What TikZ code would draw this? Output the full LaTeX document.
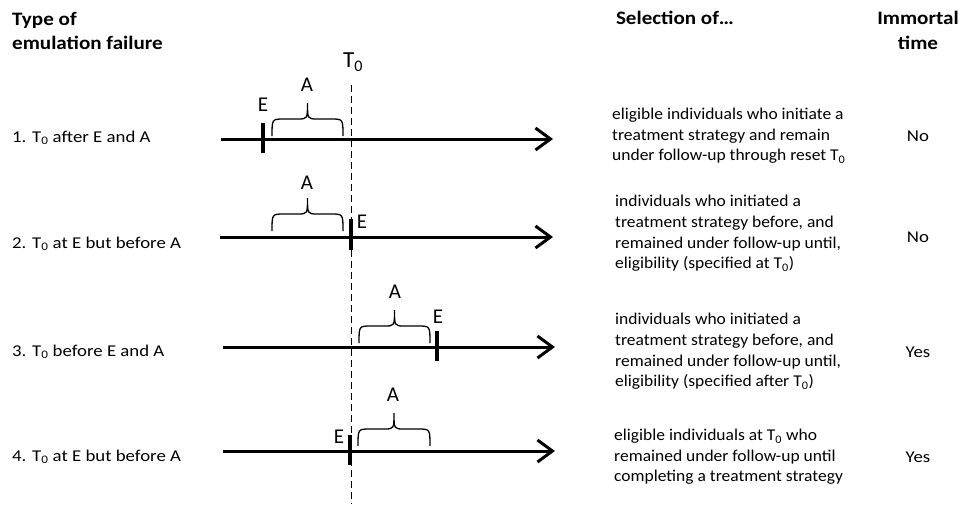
\documentclass[tikz,border=0pt]{standalone}
\usepackage{fontspec}
\setmainfont{Carlito}
\newfontfamily\bodyfont{Carlito}[FakeStretch=1.06]
\newfontfamily\rowfont{Carlito}[FakeStretch=1.14]
\newfontfamily\headfont{Carlito}[FakeStretch=1.11]
\usetikzlibrary{arrows.meta}
\newcommand{\Tz}{T\textsubscript{0}}
\newcommand{\mybrace}[3]{%
  \pgfmathsetmacro\bxa{#1}%
  \pgfmathsetmacro\bxb{#2}%
  \pgfmathsetmacro\bxc{(#1+#2)/2}%
  \pgfmathsetmacro\bym{#3-17}%
  \pgfmathsetmacro\byt{#3-33}%
  \draw[bracepath] (\bxa,#3) .. controls (\bxa,\bym) .. (\bxa+12,\bym) -- (\bxc-10,\bym)
    .. controls (\bxc,\bym) .. (\bxc,\byt) .. controls (\bxc,\bym) .. (\bxc+10,\bym)
    -- (\bxb-12,\bym) .. controls (\bxb,\bym) .. (\bxb,#3);%
}
\tikzset{
  axis/.style={line width=3pt,-{Straight Barb[length=15pt,width=22pt,line width=3pt]}},
  tickmark/.style={line width=4pt},
  bracepath/.style={line width=1.3pt},
  dashline/.style={line width=1pt,dash pattern=on 7pt off 4pt},
  head/.style={font=\headfont\fontsize{19}{24}\selectfont\bfseries,inner sep=0pt},
  lbl/.style={font=\fontsize{21}{24}\selectfont,inner sep=0pt},
  rowtxt/.style={font=\rowfont\fontsize{16.5}{20}\selectfont,inner sep=0pt,anchor=base west},
  seltxt/.style={font=\bodyfont\fontsize{16.5}{20.6}\selectfont,inner sep=0pt,anchor=west,align=left},
  ans/.style={font=\rowfont\fontsize{16.5}{20}\selectfont,inner sep=0pt},
}
\begin{document}
\begin{tikzpicture}[x=1pt,y=-1pt]
\useasboundingbox (0,0) rectangle (966,504);
% headers
\node[head,anchor=west,align=left] (htype) at (12,31) {Type of\\emulation failure};
\node[head] (hsel) at (675,18) {Selection of…};
\node[head,align=center,font=\headfont\fontsize{19}{25}\selectfont\bfseries] (himm) at (918,30.5) {Immortal\\time};
% T0 dashed line
\node[font=\fontsize{23}{26}\selectfont,inner sep=0pt] (tlab) at (353,62) {\Tz};
\coordinate (dtop) at (351,85);
\coordinate (dbot) at (351,504);
\draw[dashline] (dtop) -- (dbot);
% row 1
\node[rowtxt] (r1) at (12,142) {1. \Tz{} after E and A};
\coordinate (a1s) at (221,139); \coordinate (a1e) at (553,139);
\draw[axis] (a1s) -- (a1e);
\coordinate (t1a) at (263,123); \coordinate (t1b) at (263,153);
\draw[tickmark] (t1a) -- (t1b);
\mybrace{272}{343}{136}
\node[lbl] (A1) at (307,85) {A};
\node[lbl] (E1) at (263,105) {E};
\node[seltxt] (s1) at (612,136) {eligible individuals who initiate a\\treatment strategy and remain\\under follow-up through reset \Tz};
\node[ans] (y1) at (918,136) {No};
% row 2
\node[rowtxt] (r2) at (12,248) {2. \Tz{} at E but before A};
\coordinate (a2s) at (220,237); \coordinate (a2e) at (553,237);
\draw[axis] (a2s) -- (a2e);
\coordinate (t2a) at (351,219); \coordinate (t2b) at (351,250);
\draw[tickmark] (t2a) -- (t2b);
\mybrace{272}{343}{231}
\node[lbl] (A2) at (307,183) {A};
\node[lbl] (E2) at (362,222) {E};
\node[seltxt] (s2) at (615,233.5) {individuals who initiated a\\treatment strategy before, and\\remained under follow-up until,\\eligibility (specified at \Tz)};
\node[ans] (y2) at (918,237) {No};
% row 3
\node[rowtxt] (r3) at (12,356) {3. \Tz{} before E and A};
\coordinate (a3s) at (223,347); \coordinate (a3e) at (555,347);
\draw[axis] (a3s) -- (a3e);
\coordinate (t3a) at (437,331); \coordinate (t3b) at (437,361);
\draw[tickmark] (t3a) -- (t3b);
\mybrace{359}{430}{343}
\node[lbl] (A3) at (395,292) {A};
\node[lbl] (E3) at (438,317) {E};
\node[seltxt] (s3) at (615,351.5) {individuals who initiated a\\treatment strategy before, and\\remained under follow-up until,\\eligibility (specified after \Tz)};
\node[ans] (y3) at (918,352) {Yes};
% row 4
\node[rowtxt] (r4) at (12,461) {4. \Tz{} at E but before A};
\coordinate (a4s) at (223,451); \coordinate (a4e) at (555,451);
\draw[axis] (a4s) -- (a4e);
\coordinate (t4a) at (350,435); \coordinate (t4b) at (350,465);
\draw[tickmark] (t4a) -- (t4b);
\mybrace{358}{430}{446}
\node[lbl] (A4) at (393,395) {A};
\node[lbl] (E4) at (339,437) {E};
\node[seltxt] (s4) at (614,457) {eligible individuals at \Tz{}  who\\remained under follow-up until\\completing a treatment strategy};
\node[ans] (y4) at (918,457) {Yes};
\end{tikzpicture}
\end{document}
